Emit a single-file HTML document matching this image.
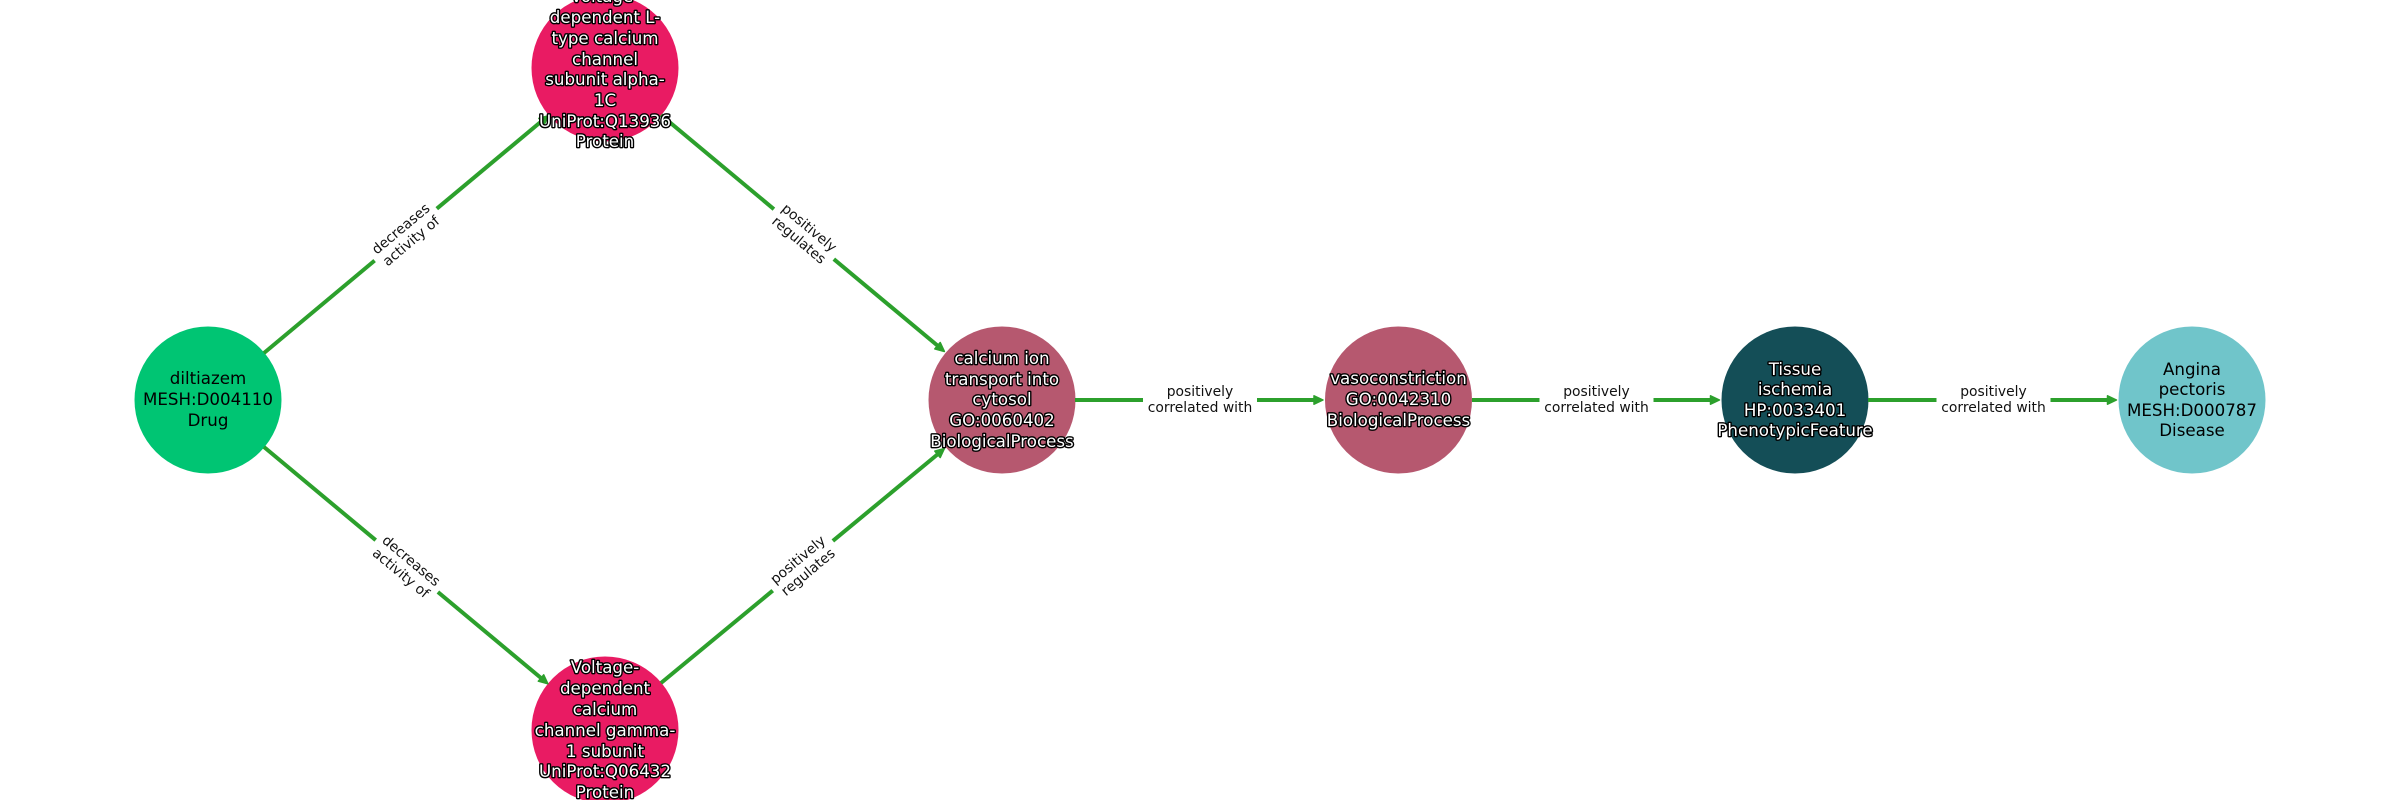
<!DOCTYPE html>
<html><head><meta charset="utf-8"><style>
html,body{margin:0;padding:0;background:#fff;width:2400px;height:800px;overflow:hidden}
svg{display:block}
text{font-family:"DejaVu Sans",sans-serif;text-anchor:middle}
.n text{font-size:16.67px;fill:#000}
.o text{font-size:16.67px;fill:#fff;stroke:#000;stroke-width:2.8px;paint-order:stroke;stroke-linejoin:round}
.e{stroke:#2ca02c;stroke-width:4;fill:none}
.a{fill:#2ca02c;stroke:#2ca02c;stroke-width:1.5;stroke-linejoin:round}
.l text{font-size:13.89px;fill:#111}
</style></head><body>
<svg width="2400" height="800" viewBox="0 0 2400 800" xmlns="http://www.w3.org/2000/svg">
<rect width="2400" height="800" fill="#fff"/>
<circle cx="208" cy="400" r="73.5" fill="#00C573"/>
<circle cx="605" cy="68" r="73.5" fill="#E91B63"/>
<circle cx="605" cy="730" r="73.5" fill="#E91B63"/>
<circle cx="1002" cy="400" r="73.5" fill="#B6586F"/>
<circle cx="1398.5" cy="400" r="73.5" fill="#B6586F"/>
<circle cx="1795" cy="400" r="73.5" fill="#144E57"/>
<circle cx="2192" cy="400" r="73.5" fill="#70C5CA"/>

<line class="e" x1="264" y1="353" x2="543" y2="120"/>
<line class="e" x1="264" y1="447" x2="541" y2="678"/>
<line class="e" x1="661" y1="115" x2="938" y2="346"/>
<line class="e" x1="661" y1="683" x2="938" y2="454"/>
<line class="e" x1="1075" y1="400" x2="1316" y2="400"/>
<line class="e" x1="1472" y1="400" x2="1712" y2="400"/>
<line class="e" x1="1868" y1="400" x2="2108" y2="400"/>

<polygon class="a" points="548.4,115.7 544.2,124.7 538.8,118.3"/>
<polygon class="a" points="547.9,683.8 538.3,681.2 543.7,674.8"/>
<polygon class="a" points="944.4,351.5 934.8,348.9 940.2,342.5"/>
<polygon class="a" points="944.4,448.5 940.2,457.5 934.8,451.1"/>
<polygon class="a" points="1323,400 1314,395.8 1314,404.2"/>
<polygon class="a" points="1719.5,400 1710.5,395.8 1710.5,404.2"/>
<polygon class="a" points="2116.5,400 2107.5,395.8 2107.5,404.2"/>

<g class="l">
<g transform="translate(406,235) rotate(-39.9)"><rect x="-40.5" y="-21" width="81" height="42" fill="#fff"/><text y="-3.5">decreases</text><text y="12.5">activity of</text></g>
<g transform="translate(406,567) rotate(39.9)"><rect x="-40.5" y="-21" width="81" height="42" fill="#fff"/><text y="-3.5">decreases</text><text y="12.5">activity of</text></g>
<g transform="translate(804,234) rotate(39.9)"><rect x="-39" y="-21" width="78" height="42" fill="#fff"/><text y="-3.5">positively</text><text y="12.5">regulates</text></g>
<g transform="translate(803,566) rotate(-39.9)"><rect x="-39" y="-21" width="78" height="42" fill="#fff"/><text y="-3.5">positively</text><text y="12.5">regulates</text></g>
<g transform="translate(1200,400)"><rect x="-57" y="-21" width="114" height="42" fill="#fff"/><text y="-4">positively</text><text y="12">correlated with</text></g>
<g transform="translate(1596.5,400)"><rect x="-57" y="-21" width="114" height="42" fill="#fff"/><text y="-4">positively</text><text y="12">correlated with</text></g>
<g transform="translate(1993.5,400)"><rect x="-57" y="-21" width="114" height="42" fill="#fff"/><text y="-4">positively</text><text y="12">correlated with</text></g>
</g>

<g class="n">
<text x="208" y="384">diltiazem</text><text x="208" y="405">MESH:D004110</text><text x="208" y="426">Drug</text>
<text x="2192" y="375">Angina</text><text x="2192" y="395">pectoris</text><text x="2192" y="416">MESH:D000787</text><text x="2192" y="436">Disease</text>
</g>
<g class="o">
<text x="605" y="2">Voltage-</text><text x="605" y="23">dependent L-</text><text x="605" y="44">type calcium</text><text x="605" y="65">channel</text><text x="605" y="85">subunit alpha-</text><text x="605" y="106">1C</text><text x="605" y="127">UniProt:Q13936</text><text x="605" y="147">Protein</text>
<text x="605" y="673">Voltage-</text><text x="605" y="694">dependent</text><text x="605" y="715">calcium</text><text x="605" y="736">channel gamma-</text><text x="605" y="757">1 subunit</text><text x="605" y="777">UniProt:Q06432</text><text x="605" y="798">Protein</text>
<text x="1002" y="364">calcium ion</text><text x="1002" y="385">transport into</text><text x="1002" y="405">cytosol</text><text x="1002" y="426">GO:0060402</text><text x="1002" y="447">BiologicalProcess</text>
<text x="1398.5" y="384">vasoconstriction</text><text x="1398.5" y="405">GO:0042310</text><text x="1398.5" y="426">BiologicalProcess</text>
<text x="1795" y="375">Tissue</text><text x="1795" y="395">ischemia</text><text x="1795" y="416">HP:0033401</text><text x="1795" y="436">PhenotypicFeature</text>
</g>
</svg>
</body></html>
